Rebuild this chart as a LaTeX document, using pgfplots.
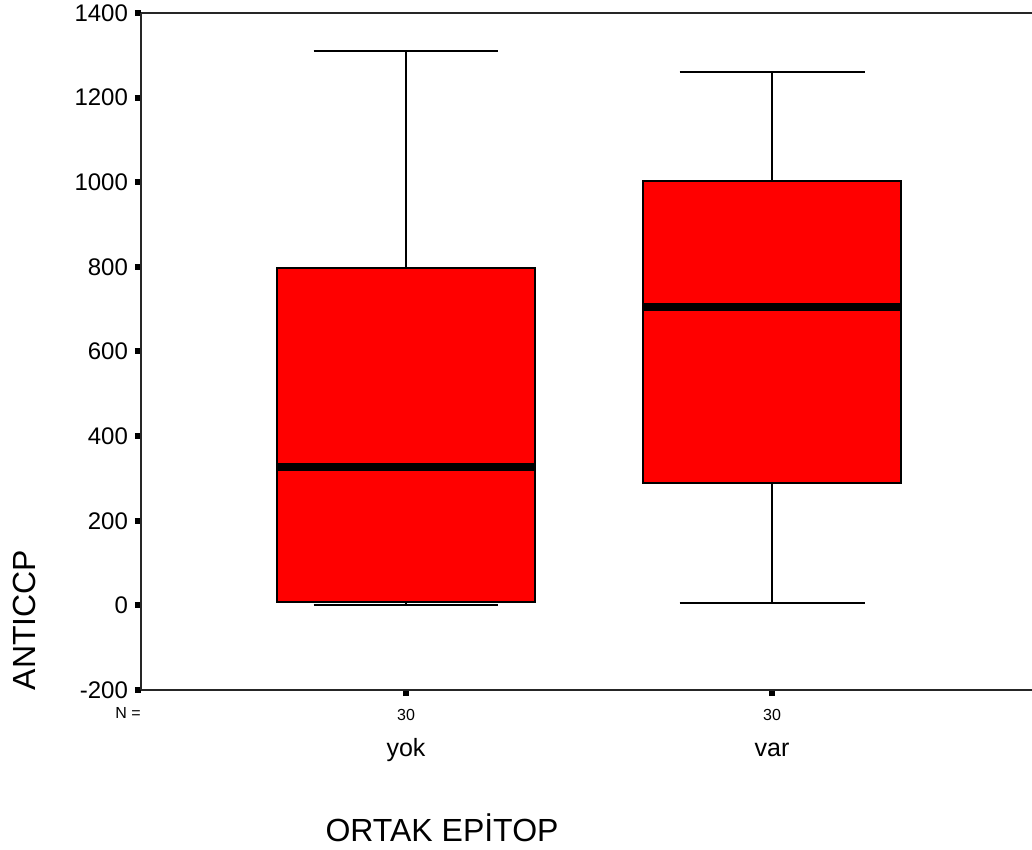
\documentclass[border=0pt]{standalone}
\usepackage{fontspec}
\setmainfont{Liberation Sans}
\usepackage{pgfplots}
\pgfplotsset{compat=1.18}
\begin{document}
\begin{tikzpicture}
\begin{axis}[
  name=ax,
  scale only axis,
  width=445.5pt, height=338.5pt,
  xmin=0.276, xmax=2.710,
  ymin=-200, ymax=1400,
  ytick={-200,0,200,400,600,800,1000,1200,1400},
  xtick={1,2},
  xticklabels={{\fontsize{8}{9}\selectfont 30\\[6pt]\fontsize{12.5}{14}\selectfont yok},{\fontsize{8}{9}\selectfont 30\\[6pt]\fontsize{12.5}{14}\selectfont var}},
  x tick label style={align=center, anchor=north, yshift=-3pt},
  axis lines=left,
  axis line style={-, line width=1pt, black!85},
  x axis line style={-},
  y axis line style={-},
  tick align=outside,
  major tick length=3pt,
  tick style={line width=3pt, black},
  /pgf/number format/assume math mode=true,
  /pgf/number format/1000 sep={},
  yticklabel style={font=\fontsize{12}{14}\selectfont},
  ylabel={ANTICCP},
  ylabel style={at={(axis description cs:-0.1313,0.1034)}, anchor=center, font=\fontsize{16}{18}\selectfont},
  xlabel={ORTAK EPİTOP},
  xlabel style={at={(axis description cs:0.3378,-0.2038)}, anchor=center, font=\fontsize{16}{18}\selectfont},
]
% yok: whiskers and caps
\addplot[black, line width=1pt] coordinates {(1,798) (1,1311)};
\addplot[black, line width=1pt] coordinates {(0.7475,1311) (1.2525,1311)};
\addplot[black, line width=1pt] coordinates {(1,7) (1,1)};
\addplot[black, line width=1pt] coordinates {(0.7475,1) (1.2525,1)};
% yok: box and median
\addplot[draw=black, fill=red, line width=1pt] coordinates {(0.6475,7) (1.3525,7) (1.3525,798) (0.6475,798)} -- cycle;
\addplot[black, line width=4pt] coordinates {(0.6475,327) (1.3525,327)};
% var: whiskers and caps
\addplot[black, line width=1pt] coordinates {(2,1004) (2,1261)};
\addplot[black, line width=1pt] coordinates {(1.7475,1261) (2.2525,1261)};
\addplot[black, line width=1pt] coordinates {(2,290) (2,6)};
\addplot[black, line width=1pt] coordinates {(1.7475,6) (2.2525,6)};
% var: box and median
\addplot[draw=black, fill=red, line width=1pt] coordinates {(1.6475,290) (2.3525,290) (2.3525,1004) (1.6475,1004)} -- cycle;
\addplot[black, line width=4pt] coordinates {(1.6475,706) (2.3525,706)};
\draw[line width=1pt, black!85] (rel axis cs:0,1) -- (rel axis cs:1,1);
\end{axis}
\node[anchor=center, font=\fontsize{8}{9}\selectfont] at ([shift={(-6.5pt,-11.5pt)}]ax.south west) {N =};
\pgfresetboundingbox
\path[use as bounding box] ([shift={(-70.5pt,-80pt)}]ax.south west) rectangle ([shift={(445.5pt,345pt)}]ax.south west);
\end{tikzpicture}
\end{document}
